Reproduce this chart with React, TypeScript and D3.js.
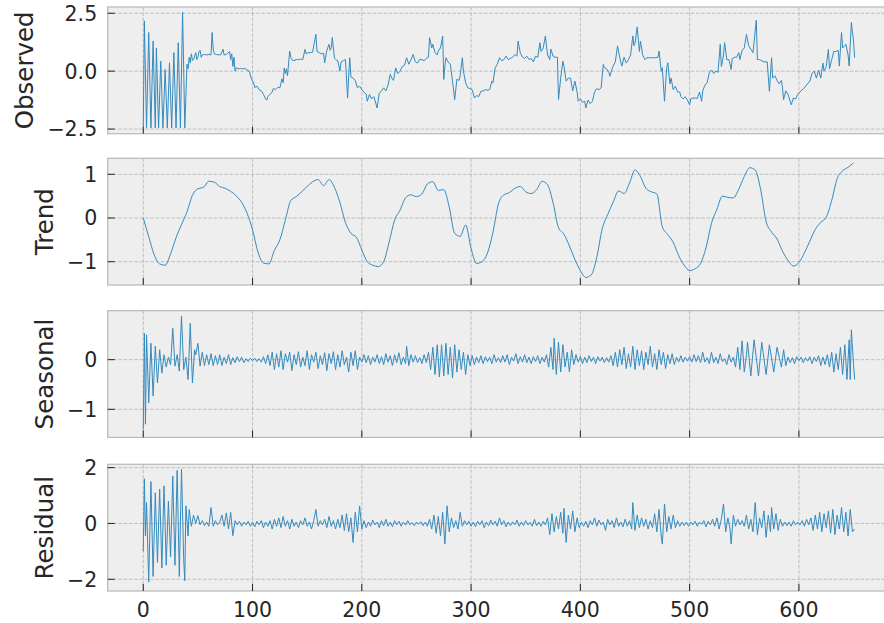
import React from "react";
import * as d3 from "d3";

// ---------- DATA ----------
const xTicks = [0, 100, 200, 300, 400, 500, 600];
const panelNames = ["Observed", "Trend", "Seasonal", "Residual"];
const observedTicks = [-2.5, 0, 2.5];
const trendTicks = [-1, 0, 1];
const seasonalTicks = [-1, 0];
const residualTicks = [-2, 0, 2];

const observedPoints: [number, number][] = [
  [0,-2.4],[1,2.17],[3,-2.45],[5,1.67],[7,-2.45],[9,1.3],[11,-2.45],[12,1.0],[14,-2.45],[16,0.43],[18,-2.45],[20,0.07],[22,-2.45],[24,0.36],[26,-2.45],[28,0.8],[30,-2.45],[32,1.23],[34,-2.45],[36,2.55],[38,-2.45],
  [40,0.3],[41,0.1],[42,0.6],[43,0.35],[44,0.75],[45,0.45],[46,0.5],[48,0.8],[49,0.5],[50,0.6],[51,0.85],[52,0.9],[53,0.6],[54,0.7],[56,0.72],[58,0.7],[60,0.72],[62,0.7],[63,1.67],[64,0.95],[65,0.75],[67,0.72],[69,0.7],[71,0.72],[73,0.95],[74,0.7],[76,0.72],[78,0.8],[79,0.85],[80,0.5],[81,0.75],[82,0.2],[83,0.6],[84,0.0],[85,0.15],[87,0.1],[89,0.12],[91,0.1],[93,0.12],[95,0.05],[97,0.0],[99,-0.35],
  [101,-0.5],[102,-0.7],[104,-0.65],[106,-0.8],[108,-0.85],[110,-1.0],[112,-1.2],[113,-1.25],[114,-1.1],[116,-1.0],[118,-0.9],[119,-0.75],[121,-0.8],[123,-0.7],[125,-0.72],[127,-0.33],[128,-0.5],[129,0.14],[130,-0.1],[131,0.1],[132,-0.2],[134,0.87],[135,0.6],[136,0.5],[138,0.45],[140,0.5],[142,0.5],[144,0.52],[146,0.5],[148,0.94],[149,0.75],[151,0.8],[153,0.8],[155,0.82],[158,1.59],[159,0.85],[161,0.8],[163,0.75],[165,0.78],[166,0.36],[168,0.9],[170,1.16],[171,0.9],[172,1.0],[173,1.45],[175,0.55],[176,0.5],[178,0.45],[180,0.0],[181,0.4],[183,0.45],[185,0.5],[187,-1.16],[188,-0.2],[189,0.58],[190,-0.25],[192,-0.3],[194,-0.4],[196,-0.72],[198,-0.65],
  [200,-0.8],[202,-0.9],[204,-1.0],[205,-1.3],[207,-1.0],[209,-1.2],[211,-1.1],[212,-1.25],[214,-1.59],[216,-0.95],[218,-0.85],[220,-0.72],[222,-0.85],[224,-0.6],[226,-0.14],[228,-0.35],[229,-0.4],[231,0.14],[233,-0.1],[235,0.0],[237,0.2],[239,0.25],[241,0.58],[243,0.3],[245,0.5],[247,0.72],[249,0.4],[251,0.35],[253,0.5],[255,0.5],[257,0.45],[259,0.55],[261,0.6],[262,1.45],[264,1.0],[265,1.16],[267,0.8],[269,0.7],[270,0.87],[272,1.0],[274,1.52],[275,-0.36],[276,0.2],[277,0.58],[279,0.4],[281,0.3],[283,-0.43],[285,-1.23],[287,-0.35],[289,-0.4],[290,-0.2],[292,0.58],[293,0.0],[295,-0.5],[297,-0.72],[299,-0.75],
  [301,-0.8],[303,-1.16],[305,-1.05],[307,-1.1],[309,-0.87],[311,-0.85],[313,-0.8],[315,-0.82],[317,-0.8],[319,-0.43],[320,-0.5],[322,0.14],[324,0.3],[326,0.58],[328,0.45],[330,0.5],[332,0.65],[334,0.5],[336,0.55],[338,0.6],[340,0.72],[342,0.65],[343,1.3],[345,0.8],[347,0.6],[349,0.55],[351,0.65],[353,0.5],[355,0.55],[357,0.4],[359,0.65],[361,0.6],[363,1.23],[364,0.85],[366,1.0],[368,1.52],[369,1.1],[370,0.7],[372,0.5],[373,0.95],[375,0.65],[377,0.6],[379,0.6],[380,-1.23],[382,-0.3],[384,0.43],[385,0.2],[387,-0.43],[389,-0.3],[391,-0.3],[393,-0.85],[395,-0.43],[397,-0.9],[398,-1.3],
  [400,-1.2],[402,-1.35],[404,-1.3],[405,-1.59],[407,-1.25],[409,-1.4],[411,-1.3],[413,-0.9],[415,-0.75],[417,-0.8],[419,-0.72],[421,0.29],[422,0.15],[424,0.1],[426,-0.05],[427,-0.22],[429,0.1],[430,0.22],[432,0.4],[434,1.09],[436,0.6],[437,0.4],[438,0.22],[440,0.6],[442,0.35],[444,0.5],[446,0.7],[448,1.52],[449,1.1],[450,1.2],[452,1.91],[454,0.85],[455,1.3],[457,0.7],[459,0.5],[461,0.58],[463,0.58],[465,0.58],[467,0.58],[469,0.58],[471,0.6],[472,0.87],[474,0.0],[475,0.15],[477,-1.3],[479,0.15],[480,0.36],[482,-0.55],[483,-0.3],[485,-0.8],[487,-0.65],[489,-0.9],[491,-0.9],[492,-1.1],[494,-1.2],[496,-1.1],[498,-1.25],
  [500,-1.45],[501,-1.2],[503,-1.16],[505,-1.16],[507,-1.18],[509,-0.9],[511,-1.3],[512,-0.85],[514,-0.6],[516,-0.5],[518,-0.07],[520,0.05],[522,-0.1],[524,0.0],[526,-0.05],[528,1.16],[529,0.2],[530,0.4],[531,0.7],[532,1.23],[534,0.5],[536,0.5],[538,0.07],[539,0.55],[541,0.6],[543,0.6],[545,0.8],[546,0.5],[548,0.9],[550,1.0],[552,1.59],[554,1.1],[556,0.95],[558,0.8],[561,2.2],[562,0.5],[564,0.5],[566,0.45],[568,0.4],[571,0.4],[573,-0.87],[575,0.58],[576,-0.3],[578,-0.2],[580,-0.4],[582,-0.55],[584,-0.4],[585,-0.72],[586,-1.23],[588,-0.85],[590,-1.0],[593,-1.45],[595,-1.16],[597,-1.2],[599,-1.0],
  [602,-0.85],[605,-0.72],[607,-0.6],[610,-0.43],[612,-0.1],[614,0.0],[616,-0.3],[618,0.05],[620,-0.3],[622,0.35],[623,0.0],[625,0.2],[627,0.94],[628,0.1],[630,0.5],[632,0.85],[634,0.85],[636,0.9],[637,0.22],[639,1.67],[640,1.0],[642,1.1],[643,1.16],[645,0.7],[646,0.22],[648,2.1],[650,1.3],[651,0.58]
];

const trendStep = 5;
const trendValues = [
  0.0,-0.43,-0.84,-1.05,-1.08,-0.82,-0.45,-0.15,0.14,0.52,
  0.67,0.70,0.84,0.82,0.72,0.68,0.61,0.51,0.36,0.11,
  -0.27,-0.78,-1.03,-1.05,-0.74,-0.50,-0.05,0.40,0.49,0.60,
  0.72,0.83,0.88,0.74,0.88,0.70,0.35,-0.10,-0.35,-0.44,
  -0.73,-1.00,-1.08,-1.11,-1.0,-0.55,-0.05,0.18,0.46,0.53,
  0.49,0.55,0.78,0.83,0.63,0.65,0.25,-0.35,-0.42,-0.16,
  -0.70,-1.04,-1.0,-0.80,-0.33,0.32,0.53,0.58,0.68,0.72,
  0.60,0.56,0.65,0.84,0.76,0.35,-0.22,-0.37,-0.64,-0.95,
  -1.2,-1.36,-1.3,-0.9,-0.25,0.08,0.36,0.62,0.56,0.80,
  1.10,0.95,0.68,0.60,0.55,-0.20,-0.38,-0.56,-0.86,-1.08,
  -1.20,-1.16,-1.04,-0.68,-0.12,0.20,0.50,0.47,0.46,0.66,
  0.95,1.15,1.10,0.65,-0.08,-0.32,-0.48,-0.76,-0.97,-1.10,
  -1.02,-0.80,-0.53,-0.26,-0.10,0.02,0.40,0.90,1.08,1.16,
  1.26
];

const seasonalPoints: [number, number][] = [
  [0,-1.4],[1,0.53],[2,-1.3],[3,0.5],[5,-0.87],[7,0.33],[9,-0.73],[11,0.27],[13,-0.47],[15,0.2],[17,-0.27],[19,0.1],[21,-0.15],[23,0.05],[25,-0.1],[27,0.63],[29,-0.13],[31,0.1],[33,-0.23],[35,0.88],[37,-0.2],[39,0.05],[41,-0.4],[43,0.73],[45,-0.47],[47,0.2],[48,0.1],[50,0.33],
  [52,-0.13],[54,0.15],[56,-0.12],[58,0.1],[60,-0.1],[62,0.12],[64,-0.12],[66,0.08],[68,-0.1],[70,0.1],[72,-0.12],[74,0.05],[76,-0.08],[78,0.1],[80,-0.1],[82,0.04],[84,-0.06],[86,0.06],[88,-0.04],[90,0.05],[92,-0.06],[94,0.02],[96,-0.04],[98,0.03],[100,-0.02],[102,0.03],[104,-0.04],[106,0.02],[108,-0.05],[110,0.06],[112,-0.08],[114,0.1],[116,-0.12],[118,0.15],[120,-0.2],[122,0.12],[124,-0.15],
  [126,0.18],[128,-0.2],[130,0.12],[132,-0.05],[134,0.15],[136,-0.22],[138,0.1],[140,-0.1],[142,0.16],[144,-0.15],[146,0.05],[148,-0.12],[150,0.18],[152,-0.2],[154,0.1],[156,-0.05],[158,0.15],[160,-0.18],[162,0.08],[164,-0.1],[166,0.14],[168,-0.22],[170,0.12],[172,-0.08],[174,0.16],[176,-0.2],[178,0.1],[180,-0.15],[182,0.18],[184,-0.1],[186,0.05],[188,-0.25],[190,0.15],[192,-0.12],[194,0.18],[196,-0.2],[198,0.05],[200,-0.05],
  [202,0.1],[204,-0.06],[206,0.08],[208,-0.1],[210,0.05],[212,-0.05],[214,0.1],[216,-0.08],[218,0.06],[220,-0.1],[222,0.12],[224,-0.05],[226,0.08],[228,-0.12],[230,0.1],[232,-0.06],[234,0.14],[236,-0.1],[238,0.05],[240,-0.08],[241,0.27],[243,-0.12],[245,0.1],[247,-0.05],[249,0.08],[251,-0.06],[253,0.04],[255,-0.08],[257,0.1],[259,-0.06],
  [261,0.15],[263,-0.2],[265,0.25],[267,-0.3],[269,0.3],[271,-0.35],[273,0.3],[275,-0.33],[277,0.33],[279,-0.3],[281,0.25],[283,-0.37],[285,0.3],[287,-0.25],[289,0.2],[291,-0.2],[293,0.15],[295,-0.3],[297,0.1],[299,-0.12],
  [301,0.08],[303,-0.1],[305,0.05],[307,-0.06],[309,0.08],[311,-0.08],[313,0.06],[315,-0.04],[317,0.05],[319,-0.08],[321,0.1],[323,-0.05],[325,0.04],[327,-0.06],[329,0.08],[331,-0.05],[333,0.1],[335,-0.1],[337,0.05],[339,-0.03],[341,0.12],[343,-0.08],[345,0.06],[347,-0.05],[349,0.1],[351,-0.06],[353,0.05],[355,-0.08],[357,0.06],[359,-0.04],[361,0.08],[363,-0.08],[365,0.05],[367,-0.05],[369,0.1],
  [371,-0.15],[373,0.25],[375,-0.2],[376,0.43],[378,-0.3],[380,0.35],[382,-0.25],[384,0.3],[386,-0.15],[388,0.15],[390,-0.25],[392,0.2],[394,-0.1],[396,0.1],[398,-0.05],
  [400,0.06],[402,-0.08],[404,0.05],[406,-0.06],[408,0.08],[410,-0.04],[412,0.05],[414,-0.08],[416,0.06],[418,-0.03],[420,0.05],[422,-0.06],[424,0.04],[426,-0.05],[428,0.08],
  [430,-0.12],[432,0.15],[434,-0.15],[436,0.2],[438,-0.1],[440,0.25],[442,-0.18],[444,0.12],[446,-0.15],[448,0.27],[450,-0.2],[452,0.2],[454,-0.12],[456,0.18],[458,-0.2],[460,0.15],[462,-0.1],[464,0.27],[466,-0.15],[468,0.12],[470,-0.2],[472,0.2],[474,-0.1],[476,0.15],[478,-0.18],[480,0.1],[482,-0.08],[484,0.12],[486,-0.1],[488,0.05],[490,-0.05],[492,0.08],[494,-0.05],
  [496,0.05],[498,-0.03],[500,0.06],[502,-0.05],[504,0.1],[506,-0.04],[508,0.08],[510,-0.06],[512,0.15],[514,-0.05],[516,0.04],[518,-0.08],[520,0.15],[522,-0.06],[524,0.05],[526,-0.08],[528,0.12],[530,-0.04],[532,0.02],[534,-0.1],[536,0.1],[538,-0.05],
  [540,0.05],[542,-0.15],[544,0.25],[546,-0.2],[548,0.38],[550,-0.25],[552,0.1],[553,0.35],[556,-0.33],[559,0.4],[563,-0.33],[566,0.35],[570,-0.3],[573,0.3],[577,-0.25],[580,0.25],[584,-0.15],[586,0.2],[588,-0.12],
  [590,0.05],[592,-0.06],[594,0.04],[596,-0.08],[598,0.06],[600,-0.02],[602,0.05],[604,-0.06],[606,0.04],[608,-0.03],[610,0.06],[612,-0.08],[614,0.05],[616,-0.04],[618,0.08],[620,-0.12],[622,0.05],[624,-0.1],[626,0.1],[628,-0.15],
  [630,0.15],[632,-0.25],[634,0.12],[636,-0.2],[638,0.25],[640,-0.3],[642,0.3],[644,-0.4],[646,0.4],[647,-0.4],[648,0.6],[650,-0.1],[651,-0.4]
];

const residualPoints: [number, number][] = [
  [0,-1.0],[1,1.6],[2,-0.45],[3,0.75],[5,-2.1],[7,1.5],[9,-1.9],[11,1.1],[13,-1.4],[15,1.23],[17,-1.6],[19,1.35],[21,-1.5],[23,0.8],[25,-1.2],[27,1.7],[29,-1.5],[31,1.9],[33,-1.9],[35,1.95],[37,-1.3],[38,-2.05],[39,0.63],
  [41,-0.45],[42,0.5],[44,-0.1],[46,0.3],[48,0.0],[50,0.28],[52,-0.05],[54,0.1],[56,-0.08],[58,0.05],[60,-0.1],[62,0.57],[64,-0.1],[66,0.1],[68,-0.05],[70,0.05],[72,0.3],[74,-0.1],[76,0.38],[78,-0.2],[80,0.4],[82,-0.44],[84,0.1],[86,-0.05],[88,0.08],[90,-0.1],[92,0.05],[94,-0.05],[96,0.08],[98,-0.1],
  [100,0.05],[102,-0.12],[104,0.08],[106,-0.05],[108,0.1],[110,-0.15],[112,0.05],[114,-0.1],[116,0.1],[118,-0.2],[120,0.15],[122,-0.1],[124,0.2],[126,-0.15],[128,0.25],[130,-0.1],[132,0.1],[134,-0.2],[136,0.15],[138,-0.1],[140,0.05],[142,-0.15],[144,0.1],[146,-0.05],[148,0.2],[150,-0.1],[152,0.05],[154,-0.2],[156,0.1],[158,0.5],[160,-0.1],[162,0.1],[164,-0.05],[166,0.15],[168,-0.15],[170,0.25],[172,-0.1],[174,0.1],[176,-0.2],[178,0.15],[180,-0.15],[182,0.3],[184,-0.25],[186,0.35],[188,-0.3],[190,0.2],[192,-0.68],[194,0.4],[196,-0.3],[198,0.63],
  [200,-0.2],[202,0.1],[204,-0.15],[206,0.05],[208,-0.1],[210,0.12],[212,-0.05],[214,0.05],[216,-0.15],[218,0.1],[220,-0.08],[222,0.15],[224,-0.1],[226,0.05],[228,-0.12],[230,0.1],[232,-0.05],[234,0.08],[236,-0.1],[238,0.05],[240,-0.06],[242,0.1],[244,-0.05],[246,0.03],[248,-0.08],[250,0.05],[252,-0.03],[254,0.06],[256,-0.08],[258,0.05],[260,-0.1],[262,0.15],[264,-0.2],[266,0.3],[268,-0.35],[270,0.25],[272,-0.45],[274,0.4],[276,-0.74],[278,0.63],[280,-0.3],[282,0.2],[284,-0.15],[286,0.1],[288,-0.2],[290,0.4],[292,-0.1],[294,0.1],[296,-0.05],[298,0.08],
  [300,-0.1],[302,0.05],[304,-0.12],[306,0.08],[308,-0.05],[310,0.1],[312,-0.15],[314,0.05],[316,-0.08],[318,0.12],[320,-0.05],[322,0.08],[324,-0.1],[326,0.2],[328,-0.05],[330,0.1],[332,-0.12],[334,0.05],[336,-0.08],[338,0.06],[340,-0.05],[342,0.12],[344,-0.1],[346,0.05],[348,-0.08],[350,0.1],[352,-0.05],[354,0.04],[356,-0.1],[358,0.15],[360,-0.08],[362,0.05],[364,-0.1],[366,0.08],[368,-0.05],
  [370,0.2],[372,-0.4],[374,0.35],[376,-0.3],[378,0.25],[380,-0.2],[382,0.4],[384,-0.35],[385,0.54],[387,-0.68],[389,0.3],[391,-0.2],[393,0.45],[395,-0.3],[397,0.2],[399,-0.15],
  [401,0.05],[403,-0.1],[405,0.08],[407,-0.15],[409,0.1],[411,-0.05],[413,0.2],[415,-0.1],[417,0.12],[419,-0.05],[421,0.05],[423,-0.25],[425,0.15],[427,-0.05],[429,0.1],[431,-0.15],[433,0.2],[435,-0.1],[437,0.05],[439,-0.12],[441,0.15],[443,-0.1],[445,0.1],
  [447,-0.2],[448,0.75],[450,-0.25],[452,0.3],[454,-0.15],[456,0.2],[458,-0.1],[460,0.15],[462,-0.2],[464,0.1],[466,-0.15],[468,0.35],[470,-0.3],[472,0.5],[474,-0.45],[475,-0.74],[477,0.7],[479,-0.3],[481,0.25],[483,-0.2],[485,0.3],[487,-0.15],[489,0.1],[491,-0.1],[493,0.05],[495,-0.08],[497,0.05],[499,-0.1],
  [501,0.05],[503,-0.05],[505,0.08],[507,-0.1],[509,0.05],[511,-0.03],[513,0.1],[515,-0.12],[517,0.08],[519,-0.05],[521,0.15],[523,-0.1],[525,0.2],[527,-0.2],[529,0.15],[531,0.7],[533,-0.3],[535,0.2],[537,-0.2],[538,-0.74],[540,0.3],[542,-0.1],[544,0.15],[546,-0.05],[548,0.1],[550,-0.1],[552,0.3],[554,-0.2],[556,0.15],[558,-0.3],[560,0.75],[562,-0.4],[564,0.2],[566,-0.15],[568,0.45],[570,-0.5],[572,0.3],[574,-0.3],[575,0.57],[577,-0.2],[579,0.35],[581,-0.25],[583,0.15],[585,-0.1],[587,0.05],[589,-0.08],[591,0.05],[593,-0.1],[595,0.1],[597,-0.05],[599,0.05],
  [601,-0.05],[603,0.1],[605,-0.1],[607,0.15],[609,-0.05],[611,0.2],[613,-0.25],[615,0.3],[617,-0.2],[619,0.4],[621,-0.3],[623,0.35],[625,-0.15],[627,0.45],[629,-0.35],[631,0.5],[633,-0.4],[635,0.3],[637,-0.2],[639,0.57],[641,-0.3],[643,0.4],[645,-0.45],[647,0.5],[649,-0.3],[651,-0.2]
];

// ---------- LAYOUT ----------
const W = 884;
const H = 623;
const LEFT = 107.7;
const RIGHT = 890.2;
const PANEL_H = 126.7;

const FONT = "'DejaVu Sans', 'Liberation Sans', sans-serif";
const LINE = "#348ABD";

type Panel = {
  name: string;
  top: number;
  domain: [number, number];
  ticks: number[];
  fmt: (v: number) => string;
  labelX: number;
  points: [number, number][];
  smooth: boolean;
};

const minus = (s: string) => s.replace("-", "\u2212");

export default function App() {
  const x = d3.scaleLinear().domain([-32.55, 683.55]).range([LEFT, RIGHT]);
  const trendPoints: [number, number][] = trendValues.map((v, i) => [i * trendStep, v]);

  const panels: Panel[] = [
    { name: panelNames[0], top: 7, domain: [-2.70, 2.77], ticks: observedTicks, fmt: (v) => minus(d3.format(".1f")(v)), labelX: 33, points: observedPoints, smooth: false },
    { name: panelNames[1], top: 158.3, domain: [-1.533, 1.366], ticks: trendTicks, fmt: (v) => minus(String(v)), labelX: 52.5, points: trendPoints, smooth: true },
    { name: panelNames[2], top: 310.7, domain: [-1.566, 0.986], ticks: seasonalTicks, fmt: (v) => minus(String(v)), labelX: 53, points: seasonalPoints, smooth: false },
    { name: panelNames[3], top: 464.3, domain: [-2.42, 2.12], ticks: residualTicks, fmt: (v) => minus(String(v)), labelX: 53, points: residualPoints, smooth: false },
  ];

  return (
    <svg width={W} height={H} style={{ position: "absolute", left: 0, top: 0, background: "#ffffff" }} fontFamily={FONT}>
      <defs>
        {panels.map((p, i) => (
          <clipPath id={`clip${i}`} key={i}>
            <rect x={LEFT} y={p.top} width={RIGHT - LEFT} height={PANEL_H} />
          </clipPath>
        ))}
      </defs>
      {panels.map((p, i) => {
        const y = d3.scaleLinear().domain(p.domain).range([p.top + PANEL_H, p.top]);
        const line = d3
          .line<[number, number]>()
          .x((d) => x(d[0]))
          .y((d) => y(d[1]))
          .curve(p.smooth ? d3.curveMonotoneX : d3.curveLinear);
        const bottom = p.top + PANEL_H;
        const cy = p.top + PANEL_H / 2;
        return (
          <g key={p.name}>
            <rect x={LEFT} y={p.top} width={RIGHT - LEFT} height={PANEL_H} fill="#eeeeee" />
            {/* grid */}
            {xTicks.map((t) => (
              <line key={"gx" + t} x1={x(t)} x2={x(t)} y1={p.top} y2={bottom} stroke="#b2b2b2" strokeWidth={0.8} strokeDasharray="3.7,1.6" />
            ))}
            {p.ticks.map((t) => (
              <line key={"gy" + t} x1={LEFT} x2={RIGHT} y1={y(t)} y2={y(t)} stroke="#b2b2b2" strokeWidth={0.8} strokeDasharray="3.7,1.6" />
            ))}
            {/* series */}
            <path d={line(p.points) || ""} fill="none" stroke={LINE} strokeWidth={1} strokeLinejoin="round" clipPath={`url(#clip${i})`} />
            {/* frame */}
            <rect x={LEFT} y={p.top} width={RIGHT - LEFT} height={PANEL_H} fill="none" stroke="#bcbcbc" strokeWidth={1.3} />
            {/* x ticks (inward) */}
            {xTicks.map((t) => (
              <line key={"tx" + t} x1={x(t)} x2={x(t)} y1={bottom} y2={bottom - 7} stroke="#222222" strokeWidth={1} />
            ))}
            {/* y ticks */}
            {p.ticks.map((t) => (
              <g key={"ty" + t}>
                <line x1={LEFT} x2={LEFT + 7} y1={y(t)} y2={y(t)} stroke="#222222" strokeWidth={1} />
                <text x={LEFT - 10.5} y={y(t)} dy="0.36em" textAnchor="end" fontSize={20.5} fill="#262626">
                  {p.fmt(t)}
                </text>
              </g>
            ))}
            {/* y label */}
            <text transform={`translate(${p.labelX},${cy}) rotate(-90)`} textAnchor="middle" fontSize={24.5} fill="#262626">
              {p.name}
            </text>
            {/* x tick labels on the bottom panel only */}
            {i === panels.length - 1 &&
              xTicks.map((t) => (
                <text key={"lx" + t} x={x(t)} y={bottom + 25.5} textAnchor="middle" fontSize={20.5} fill="#262626">
                  {t}
                </text>
              ))}
          </g>
        );
      })}
    </svg>
  );
}
